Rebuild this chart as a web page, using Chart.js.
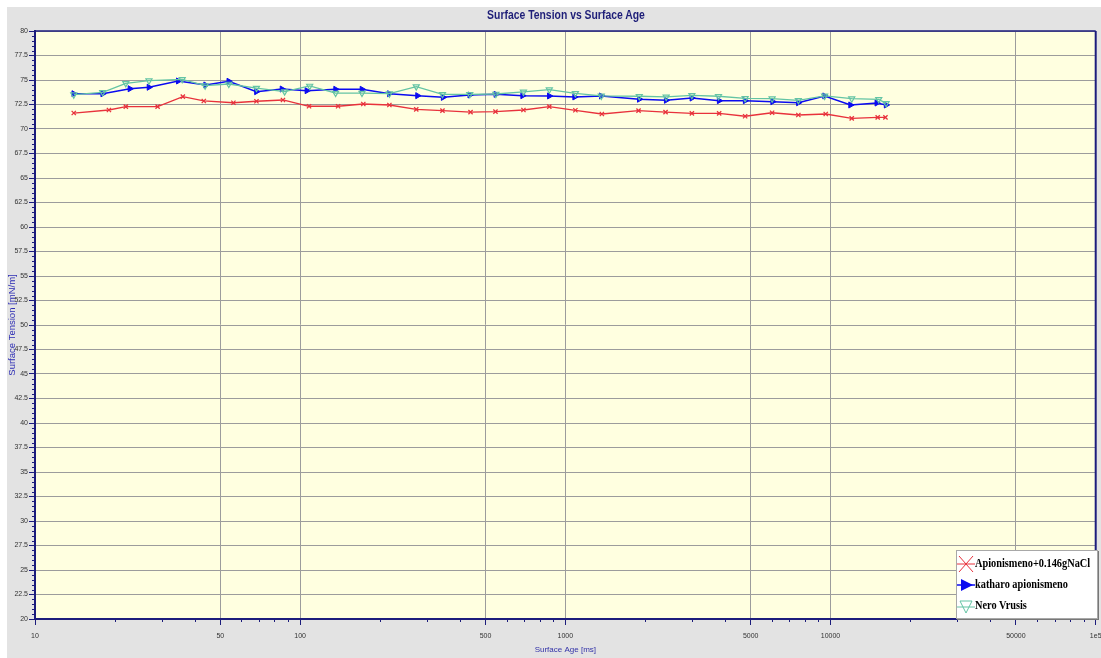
<!DOCTYPE html>
<html>
<head>
<meta charset="utf-8">
<script src="https://cdn.jsdelivr.net/npm/chart.js@4.4.1/dist/chart.umd.min.js"></script>
<style>
    html, body { margin: 0; padding: 0; background: #fff; }
    #wrap { position: relative; width: 1101px; height: 658px; overflow: hidden; }
    #panel { position: absolute; left: 7px; top: 7px; right: 0; bottom: 0; background: #e3e3e3; }
    #chart { position: absolute; left: 0; top: 0; }
    #title {
        position: absolute; left: 416px; top: 7px; width: 300px; text-align: center;
        font: bold 13px 'Liberation Sans', Arial, sans-serif; color: #1e1e78;
        transform: scaleX(0.8); transform-origin: center;
    }
    #legend {
        position: absolute; left: 956px; top: 550px; width: 142px; height: 69px;
        box-sizing: border-box; background: #fff; border: 1px solid #a8a8a8;
        box-shadow: 1px 1px 0 #777; padding-top: 2px;
        font: bold 12px 'Liberation Serif', 'Times New Roman', serif; color: #000;
    }
    #legend .item { display: flex; align-items: center; height: 21px; white-space: nowrap; }
    #legend svg { width: 18px; height: 18px; flex: none; }
    #legend span { display: inline-block; transform: scaleX(0.86); transform-origin: left center; }
</style>
</head>
<body>
<div id="wrap">
    <div id="panel"></div>
    <canvas id="chart" width="1101" height="658"></canvas>
    <div id="title">Surface Tension vs Surface Age</div>
    <div id="legend">
        <div class="item">
            <svg viewBox="0 0 18 18"><line x1="0" y1="9" x2="18" y2="9" stroke="#e8323c" stroke-width="1"/><line x1="2" y1="1" x2="16" y2="17" stroke="#e8323c" stroke-width="1"/><line x1="2" y1="17" x2="16" y2="1" stroke="#e8323c" stroke-width="1"/></svg>
            <span>Apionismeno+0.146gNaCl</span>
        </div>
        <div class="item">
            <svg viewBox="0 0 18 18"><line x1="0" y1="9" x2="18" y2="9" stroke="#0a0af0" stroke-width="1.5"/><polygon points="4,3 4,15 16,9" fill="#0a0af0"/></svg>
            <span>katharo apionismeno</span>
        </div>
        <div class="item">
            <svg viewBox="0 0 18 18"><line x1="0" y1="10" x2="18" y2="10" stroke="#64c4a4" stroke-width="1"/><polygon points="3,4 15,4 9,16" fill="none" stroke="#64c4a4" stroke-width="1"/></svg>
            <span>Nero Vrusis</span>
        </div>
    </div>
</div>
<script>
// Surface age [ms] and surface tension [mN/m]
const redAge = [14.0, 19.0, 22.0, 29.0, 36.1, 43.3, 56.0, 68.4, 86.1, 108, 139, 173, 217, 274, 344, 439,
    545, 695, 870, 1091, 1373, 1888, 2387, 3000, 3802, 4764, 6021, 7563, 9592, 12020, 15060, 16110];
const redTension = [71.63, 71.94, 72.28, 72.28, 73.30, 72.86, 72.68, 72.83, 72.96, 72.32, 72.32, 72.55, 72.45, 72.01, 71.87, 71.73,
    71.77, 71.94, 72.28, 71.91, 71.53, 71.87, 71.73, 71.60, 71.60, 71.30, 71.66, 71.43, 71.53, 71.09, 71.19, 71.19];

const blueAge = [14.0, 18.0, 22.8, 26.9, 34.7, 44.0, 53.8, 68.4, 85.4, 106, 136, 171, 217, 277, 346, 436,
    547, 690, 870, 1084, 1366, 1900, 2400, 3000, 3802, 4764, 6050, 7563, 9500, 11900, 14950, 16200];
const blueTension = [73.60, 73.60, 74.11, 74.26, 74.90, 74.49, 74.87, 73.81, 74.08, 73.91, 74.05, 74.05, 73.60, 73.40, 73.23, 73.47,
    73.54, 73.40, 73.37, 73.27, 73.37, 73.04, 72.93, 73.16, 72.89, 72.89, 72.79, 72.68, 73.37, 72.45, 72.65, 72.45];

const greenAge = [14.0, 18.0, 22.0, 26.9, 35.9, 43.8, 53.8, 68.4, 87.4, 108.6, 136, 171, 217, 274, 344, 436,
    547, 695, 870, 1091, 1366, 1900, 2400, 3000, 3780, 4764, 6021, 7563, 9500, 12020, 15200, 16200];
const greenTension = [73.50, 73.74, 74.66, 74.93, 75.07, 74.42, 74.59, 74.18, 73.81, 74.39, 73.67, 73.67, 73.60, 74.32, 73.54, 73.54,
    73.57, 73.78, 74.01, 73.64, 73.37, 73.34, 73.27, 73.44, 73.34, 73.13, 73.09, 72.93, 73.37, 73.09, 73.03, 72.62];

const xTicks = [10, 50, 100, 500, 1000, 5000, 10000, 50000, 100000];
const xTickLabels = ['10', '50', '100', '500', '1000', '5000', '10000', '50000', '1e5'];
const yTicks = [20, 22.5, 25, 27.5, 30, 32.5, 35, 37.5, 40, 42.5, 45, 47.5, 50, 52.5, 55, 57.5,
    60, 62.5, 65, 67.5, 70, 72.5, 75, 77.5, 80];

const NAVY = '#1c1c7c';
const GRID = '#9c9c9c';
const FONT = "'Liberation Sans', Arial, sans-serif";

function toPoints(xs, ys) {
    return xs.map((x, i) => ({ x: x, y: ys[i] }));
}

// plot background, top/right frame and the short minor ticks
const plotFrame = {
    id: 'plotFrame',
    beforeDraw(chart) {
        const { ctx, chartArea: a } = chart;
        ctx.save();
        ctx.fillStyle = '#ffffe0';
        ctx.fillRect(a.left, a.top, a.right - a.left, a.bottom - a.top);
        ctx.restore();
    },
    afterDraw(chart) {
        const { ctx, chartArea: a } = chart;
        const xs = chart.scales.x, ys = chart.scales.y;
        ctx.save();
        ctx.strokeStyle = NAVY;
        ctx.lineWidth = 1;
        ctx.beginPath();
        // minor ticks on x
        for (let d = 10; d < 100000; d *= 10) {
            for (let m = 2; m <= 9; m++) {
                if (m === 5) continue;
                const px = Math.round(xs.getPixelForValue(m * d)) + 0.5;
                ctx.moveTo(px, a.bottom);
                ctx.lineTo(px, a.bottom + 3);
            }
        }
        // minor ticks on y
        for (let v = 20; v <= 80; v += 0.5) {
            if (yTicks.includes(v)) continue;
            const py = Math.round(ys.getPixelForValue(v)) + 0.5;
            ctx.moveTo(a.left - 3, py);
            ctx.lineTo(a.left, py);
        }
        ctx.stroke();
        ctx.lineWidth = 1.5;
        ctx.beginPath();
        ctx.moveTo(a.left, a.top);
        ctx.lineTo(a.right, a.top);
        ctx.stroke();
        ctx.lineWidth = 2;
        ctx.beginPath();
        ctx.moveTo(a.right, a.top);
        ctx.lineTo(a.right, a.bottom);
        ctx.stroke();
        ctx.restore();
    }
};

new Chart(document.getElementById('chart'), {
    type: 'line',
    data: {
        datasets: [
            {
                label: 'Apionismeno+0.146gNaCl',
                data: toPoints(redAge, redTension),
                borderColor: '#e8323c',
                backgroundColor: '#e8323c',
                borderWidth: 1.3,
                pointStyle: 'crossRot',
                pointRadius: 3,
                pointBorderWidth: 1.3
            },
            {
                label: 'Nero Vrusis',
                data: toPoints(greenAge, greenTension),
                borderColor: '#64c4a4',
                backgroundColor: 'rgba(0,0,0,0)',
                borderWidth: 1.3,
                pointStyle: 'triangle',
                rotation: 180,
                pointRadius: 3.5,
                pointBorderWidth: 1.2
            },
            {
                label: 'katharo apionismeno',
                data: toPoints(blueAge, blueTension),
                borderColor: '#0a0af0',
                backgroundColor: '#0a0af0',
                borderWidth: 1.5,
                pointStyle: 'triangle',
                rotation: 90,
                pointRadius: 3.5,
                pointBorderWidth: 1
            }
        ]
    },
    options: {
        responsive: false,
        animation: false,
        devicePixelRatio: 1,
        layout: { padding: { top: 31, left: 0, right: 0, bottom: 0 } },
        plugins: {
            legend: { display: false },
            tooltip: { enabled: false },
            title: { display: false }
        },
        scales: {
            x: {
                type: 'logarithmic',
                min: 10,
                max: 100000,
                afterBuildTicks: s => { s.ticks = xTicks.map(v => ({ value: v })); },
                afterFit: s => { s.height = 39; s.paddingLeft = 0; s.paddingRight = 4; },
                ticks: {
                    autoSkip: false,
                    maxRotation: 0,
                    callback: (v, i) => xTickLabels[i],
                    color: '#333',
                    font: { family: FONT, size: 7 },
                    padding: 7
                },
                grid: {
                    color: c => (c.tick && (c.tick.value === 10 || c.tick.value === 100000)) ? 'rgba(0,0,0,0)' : GRID,
                    tickColor: NAVY,
                    tickLength: 6,
                    lineWidth: 1
                },
                border: { color: NAVY, width: 2 },
                title: {
                    display: true,
                    text: 'Surface Age [ms]',
                    color: '#3232a8',
                    font: { family: FONT, size: 8 },
                    padding: { top: 0, bottom: 3 }
                }
            },
            y: {
                type: 'linear',
                min: 20,
                max: 80,
                afterBuildTicks: s => { s.ticks = yTicks.map(v => ({ value: v })); },
                afterFit: s => { s.width = 35; s.paddingTop = 0; s.paddingBottom = 0; },
                ticks: {
                    autoSkip: false,
                    callback: v => String(v),
                    color: '#333',
                    font: { family: FONT, size: 7 },
                    padding: 1
                },
                grid: {
                    color: GRID,
                    tickColor: NAVY,
                    tickLength: 6,
                    lineWidth: 1
                },
                border: { color: NAVY, width: 2 },
                title: {
                    display: true,
                    text: 'Surface Tension [mN/m]',
                    color: '#2d2db4',
                    font: { family: FONT, size: 9.5 },
                    padding: { top: 7, bottom: 0 }
                }
            }
        }
    },
    plugins: [plotFrame]
});
</script>
</body>
</html>
